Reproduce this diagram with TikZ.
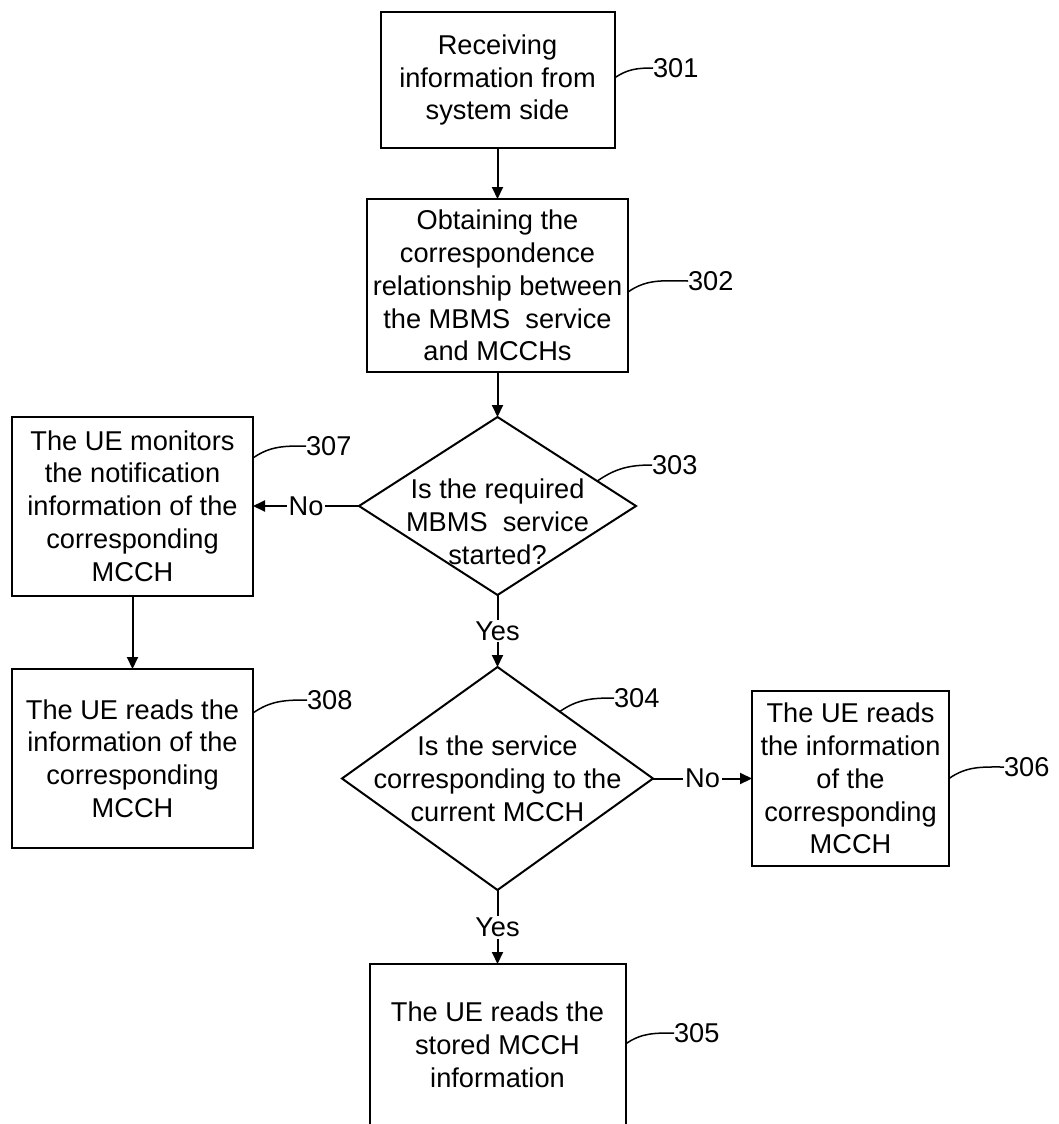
\documentclass[tikz,border=0pt]{standalone}
\usepackage{fontspec}
\setmainfont{Liberation Sans}
\usetikzlibrary{shapes.geometric,arrows.meta,calc}
\begin{document}
\begin{tikzpicture}[x=1pt,y=1pt,
  every node/.style={font=\fontsize{27.2}{32.8}\selectfont, inner sep=0pt, outer sep=0pt},
  box/.style={draw, line width=2pt, rectangle, align=center},
  dia/.style={draw, line width=2pt, diamond, inner sep=0pt},
  qtext/.style={align=center},
  arr/.style={line width=2pt, -{Triangle[length=12pt,width=11pt]}},
  lab/.style={fill=white, inner sep=2pt},
  callout/.style={line width=1.5pt},
  num/.style={anchor=west}]
\useasboundingbox (0,0) rectangle (1059,-1124);

% boxes
\node[box, minimum width=234pt, minimum height=136pt] (b301) at (497.5,-80) {Receiving\\information from\\system side};
\node[box, minimum width=261pt, minimum height=173pt] (b302) at (497.5,-285.5) {Obtaining the\\correspondence\\relationship between\\the MBMS~~service\\and MCCHs};
\node[dia, minimum width=277pt, minimum height=178pt] (d303) at (497.5,-506) {};
\node[qtext] (t303) at (497.5,-522) {Is the required\\MBMS~~service\\started?};
\node[dia, minimum width=311pt, minimum height=223pt] (d304) at (497.5,-778.5) {};
\node[qtext] (t304) at (497.5,-779) {Is the service\\corresponding to the\\current MCCH};
\node[box, minimum width=241pt, minimum height=179pt] (b307) at (132.5,-506) {The UE monitors\\the notification\\information of the\\corresponding\\MCCH};
\node[box, minimum width=241pt, minimum height=179pt] (b308) at (132.5,-758.5) {The UE reads the\\information of the\\corresponding\\MCCH};
\node[box, minimum width=197pt, minimum height=175pt] (b306) at (850.5,-778.5) {The UE reads\\the information\\of the\\corresponding\\MCCH};
\node[box, minimum width=256pt, minimum height=162pt] (b305) at (497.5,-1045) {The UE reads the\\stored MCCH\\information};

% connectors
\draw[arr] (b301) -- (b302);
\draw[arr] (b302) -- (d303.north);
\draw[arr] (d303.west) -- node[lab] {No} (b307.east);
\draw[arr] (d303.south) -- node[lab] {Yes} (d304.north);
\draw[arr] (d304.east) -- node[lab] {No} (b306.west);
\draw[arr] (d304.south) -- node[lab] {Yes} (b305.north);
\draw[arr] (b307) -- (b308);

% reference numbers
\node[num] (n301) at (653,-68) {301};
\node[num] (n302) at (688,-281) {302};
\node[num] (n303) at (652,-465) {303};
\node[num] (n304) at (614,-698) {304};
\node[num] (n305) at (674,-1033) {305};
\node[num] (n306) at (1004,-767) {306};
\node[num] (n307) at (306,-446) {307};
\node[num] (n308) at (307,-700) {308};

\draw[callout] ([yshift=2pt]b301.east) to[out=35,in=180] (n301.west);
\draw[callout] ([yshift=-6.5pt]b302.east) to[out=35,in=180] (n302.west);
\draw[callout] ($(d303.north)!0.72!(d303.east)$) to[out=35,in=180] (n303.west);
\draw[callout] ($(d304.north)!0.40!(d304.east)$) to[out=35,in=180] (n304.west);
\draw[callout] ([yshift=1pt]b305.east) to[out=35,in=180] (n305.west);
\draw[callout] (b306.east) to[out=35,in=180] (n306.west);
\draw[callout] ([yshift=48pt]b307.east) to[out=35,in=180] (n307.west);
\draw[callout] ([yshift=45.5pt]b308.east) to[out=35,in=180] (n308.west);
\end{tikzpicture}
\end{document}
